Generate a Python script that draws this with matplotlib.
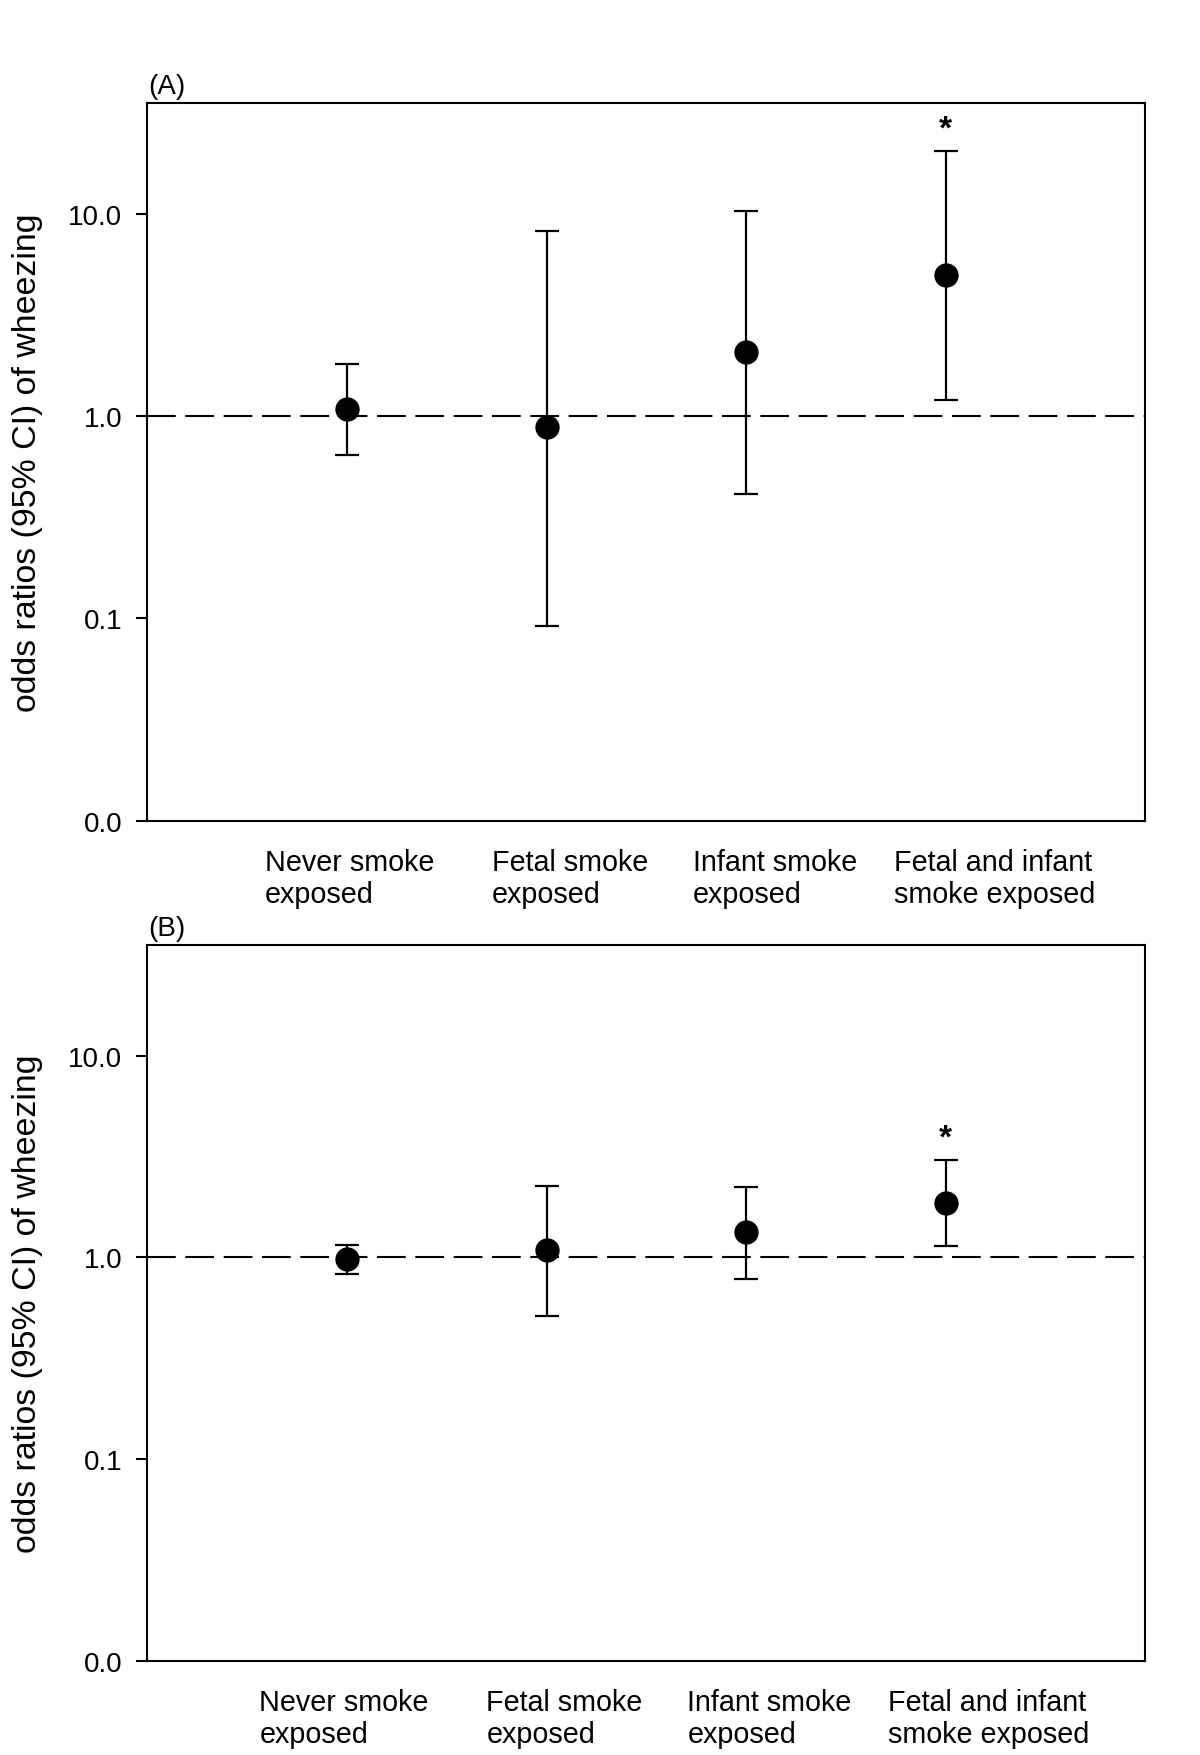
import matplotlib
matplotlib.use("Agg")
import matplotlib.pyplot as plt
import matplotlib.transforms as mtransforms

plt.rcParams['font.family'] = ['Liberation Sans', 'DejaVu Sans']

categories = ["Never smoke\nexposed", "Fetal smoke\nexposed",
              "Infant smoke\nexposed", "Fetal and infant\nsmoke exposed"]

# Panel A
or_a = [1.09, 0.88, 2.08, 5.0]
lo_a = [0.644, 0.092, 0.412, 1.21]
hi_a = [1.82, 8.26, 10.4, 20.5]
sig_a = [False, False, False, True]

# Panel B
or_b = [0.98, 1.09, 1.33, 1.87]
lo_b = [0.828, 0.514, 0.78, 1.14]
hi_b = [1.156, 2.27, 2.24, 3.03]
sig_b = [False, False, False, True]

ytick_vals = [0.01, 0.1, 1.0, 10.0]
ytick_labels = ["0.0", "0.1", "1.0", "10.0"]
ylabel = "odds ratios (95% CI) of wheezing"
panel_labels = ["(A)", "(B)"]

fig = plt.figure(figsize=(12, 17.56), dpi=100)
ax_a = fig.add_axes([0.1228, 0.5321, 0.8317, 0.4085])
ax_b = fig.add_axes([0.1228, 0.0534, 0.8317, 0.4079])

panels = [
    (ax_a, or_a, lo_a, hi_a, sig_a, panel_labels[0], 0.0, -20),
    (ax_b, or_b, lo_b, hi_b, sig_b, panel_labels[1], -0.028, -19),
]

label_x = [0.589, 1.726, 2.734, 3.739]

for ax, ors, los, his, sigs, plab, shift, yoff in panels:
    x = list(range(1, len(ors) + 1))
    yerr = [[o - l for o, l in zip(ors, los)], [h - o for o, h in zip(ors, his)]]
    ax.set_yscale('log')
    ax.axhline(1.0, color='black', lw=1.5, linestyle=(0, (13.8, 4.6)), zorder=1)
    ax.errorbar(x, ors, yerr=yerr, fmt='o', color='black', ecolor='black',
                elinewidth=1.6, capsize=8.3, capthick=1.6, markersize=16.5, zorder=3)
    ax.set_xlim(0, 5)
    ax.set_ylim(0.01, 35.3)
    ax.set_yticks(ytick_vals)
    ax.set_yticklabels(ytick_labels)
    ax.yaxis.set_minor_locator(matplotlib.ticker.NullLocator())
    ax.set_xticks([])
    ax.tick_params(axis='y', direction='out', length=8, width=1.5, pad=10, labelsize=20)
    for sp in ax.spines.values():
        sp.set_linewidth(1.5)
    trans = mtransforms.blended_transform_factory(ax.transData, ax.transAxes)
    for lx, cat in zip(label_x, categories):
        ax.annotate(cat, xy=(lx + shift, 0), xycoords=trans, xytext=(0, yoff),
                    textcoords='offset points', ha='left', va='top', fontsize=20.7,
                    linespacing=1.18, annotation_clip=False)
    for xi, h, s in zip(x, his, sigs):
        if s:
            ax.annotate("*", xy=(xi, h), xytext=(0, 5), textcoords='offset points',
                        ha='center', va='bottom', fontsize=24, fontweight='bold')
    ax.annotate(plab, xy=(0, 1), xycoords='axes fraction', xytext=(1, 3),
                textcoords='offset points', ha='left', va='bottom', fontsize=20)
    bb = ax.get_position()
    fig.text(0.0233, bb.y0 + bb.height / 2, ylabel, rotation=90, ha='center',
             va='center', fontsize=24.4)

fig.savefig("out.png", dpi=100)
